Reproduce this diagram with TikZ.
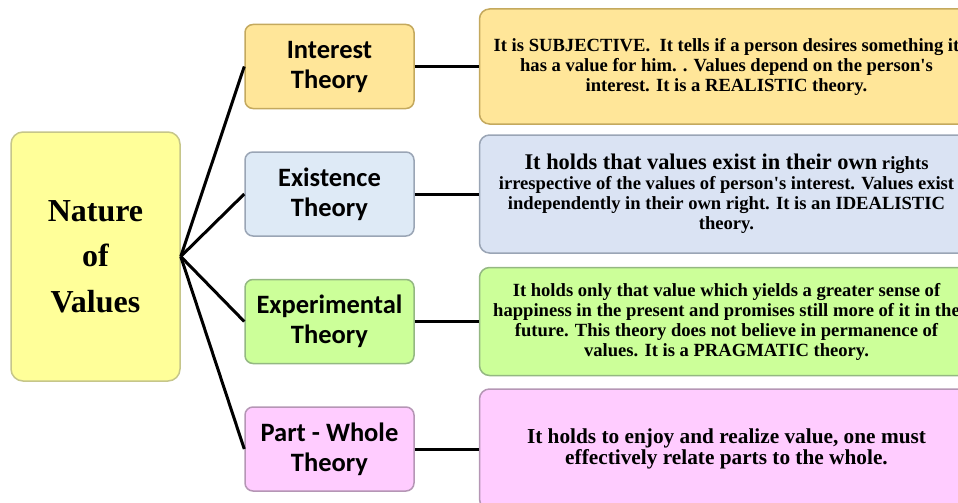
\documentclass[tikz,border=0pt]{standalone}
\usepackage{fontspec}
\setmainfont{Liberation Serif}
\newfontfamily\carlito{Carlito}
\usetikzlibrary{positioning}
\definecolor{rootfill}{HTML}{FFFF99}
\definecolor{rootline}{HTML}{C6C68A}
\definecolor{intfill}{HTML}{FFE699}
\definecolor{intline}{HTML}{C4A95E}
\definecolor{exifill}{HTML}{DEEAF6}
\definecolor{exidesc}{HTML}{DAE3F3}
\definecolor{exiline}{HTML}{9AA5B5}
\definecolor{expfill}{HTML}{CCFF99}
\definecolor{expline}{HTML}{94B882}
\definecolor{pwfill}{HTML}{FFCCFF}
\definecolor{pwline}{HTML}{B596B5}
\tikzstyle{rootbox} = [rectangle, rounded corners=12pt, minimum width=169pt, minimum height=249pt, align=center, line width=1.5pt, draw=rootline, fill=rootfill, font=\fontsize{32}{45.5}\selectfont\bfseries]
\tikzstyle{theory} = [rectangle, rounded corners=8pt, minimum width=169pt, minimum height=84pt, align=center, line width=1.5pt, font=\carlito\fontsize{26.5}{30}\selectfont\bfseries]
\tikzstyle{desc} = [rectangle, rounded corners=10pt, minimum width=494pt, align=center, line width=1.5pt, font=\fontsize{18.6}{20}\selectfont\bfseries]
\tikzstyle{link} = [line width=3pt, black]

\begin{document}
\begin{tikzpicture}[x=1pt, y=1pt, node distance=42pt and 64pt]
\useasboundingbox (0,0) rectangle (958,-503);
\node (nature) [rootbox] at (95.5,-256.5) {Nature\\of\\Values};
\node (interest) [theory, draw=intline, fill=intfill] at (329.5,-66.5) {Interest\\Theory};
\node (existence) [theory, draw=exiline, fill=exifill, below=of interest] {Existence\\Theory};
\node (experimental) [theory, draw=expline, fill=expfill, below=of existence] {Experimental\\Theory};
\node (partwhole) [theory, draw=pwline, fill=pwfill, below=of experimental] {Part - Whole\\Theory};

\node (interestdesc) [desc, draw=intline, fill=intfill, minimum height=115pt, right=of interest] {It is SUBJECTIVE.\ \ It tells if a person desires something it\\has a value for him. . Values depend on the person\textquotesingle s\\interest. It is a REALISTIC theory.};
\node (existencedesc) [desc, draw=exiline, fill=exidesc, minimum height=118pt, right=of existence] {{\fontsize{22.4}{20}\selectfont It holds that values exist in their own} rights\\irrespective of the values of person\textquotesingle s interest. Values exist\\independently in their own right. It is an IDEALISTIC\\theory.};
\node (experimentaldesc) [desc, draw=expline, fill=expfill, minimum height=108pt, right=of experimental] {It holds only that value which yields a greater sense of\\happiness in the present and promises still more of it in the\\future. This theory does not believe in permanence of\\values. It is a PRAGMATIC theory.};
\node (partwholedesc) [desc, draw=pwline, fill=pwfill, minimum height=120pt, font=\fontsize{21.3}{21}\selectfont\bfseries, right=of partwhole] {It holds to enjoy and realize value, one must\\effectively relate parts to the whole.};

\draw[link] (nature.east) -- (interest.west);
\draw[link] (nature.east) -- (existence.west);
\draw[link] (nature.east) -- (experimental.west);
\draw[link] (nature.east) -- (partwhole.west);
\draw[link] (interest) -- (interestdesc);
\draw[link] (existence) -- (existencedesc);
\draw[link] (experimental) -- (experimentaldesc);
\draw[link] (partwhole) -- (partwholedesc);
\end{tikzpicture}
\end{document}
